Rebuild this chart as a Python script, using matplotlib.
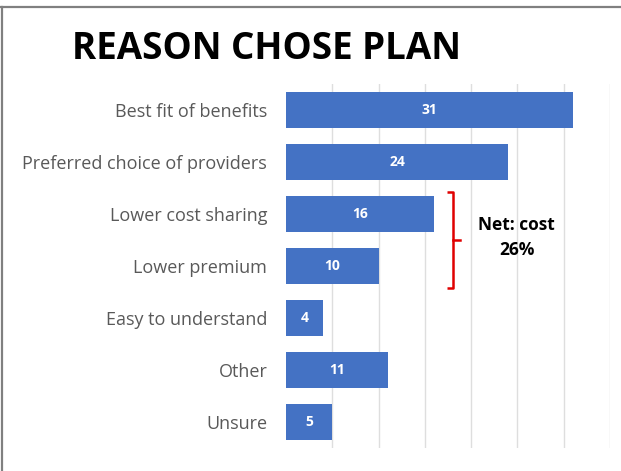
import matplotlib; matplotlib.use("Agg")
import matplotlib.pyplot as plt

# data
reasons=["Best fit of benefits","Preferred choice of providers","Lower cost sharing",
         "Lower premium","Easy to understand","Other","Unsure"]
counts=[31,24,16,10,4,11,5]
net_label="Net: cost\n26%"
net_span=(2,3)   # categories covered by the bracket

BLUE="#4472C4"; GRID="#DEDEDE"; LBL="#595959"; RED="#E00000"
plt.rcParams["font.family"]=["Open Sans","DejaVu Sans"]

fig=plt.figure(figsize=(6.21,4.71),dpi=100)
ax=fig.add_axes([286/621,1-448/471,(610-286)/621,(448-84)/471])
y=list(range(len(reasons)))
ax.barh(y,counts,height=0.68,color=BLUE,zorder=3)
for yi,v in zip(y,counts):
    ax.text(v/2,yi,str(v),ha="center",va="center",color="white",fontsize=10,fontweight="bold",zorder=4)
ax.set_xlim(0,35); ax.set_ylim(len(reasons)-0.5,-0.5)
ax.set_xticks(range(5,36,5)); ax.set_xticklabels([])
ax.tick_params(length=0)
ax.grid(axis="x",color=GRID,lw=1,zorder=0)
ax.set_yticks(y); ax.set_yticklabels(reasons,fontsize=13,color=LBL)
ax.tick_params(axis="y",pad=13.5)
for s in ax.spines.values(): s.set_visible(False)

# bracket for net cost
y0,y1=net_span[0]-0.43,net_span[1]+0.43; ym=(y0+y1)/2; bx=18.0
ax.plot([bx-0.6,bx,bx,bx-0.6],[y0,y0,y1,y1],color=RED,lw=1.8,solid_capstyle="butt",zorder=5)
ax.plot([bx,bx+0.8],[ym,ym],color=RED,lw=1.8,zorder=5)
ax.text(24.9,ym-0.05,net_label,ha="center",va="center",fontsize=12.5,fontweight="bold",color="black",linespacing=1.45,zorder=5)

fig.text(266/621,1-49/471,"REASON CHOSE PLAN",ha="center",va="center",fontsize=26.5,fontweight="bold",color="black")
# picture frame (top and left edges)
fig.add_artist(plt.Line2D([0,1],[1-7/471]*2,transform=fig.transFigure,color="#808080",lw=1.6))
fig.add_artist(plt.Line2D([1.5/621]*2,[0,1-7/471],transform=fig.transFigure,color="#808080",lw=1.6))
fig.savefig("out.png",dpi=100)
